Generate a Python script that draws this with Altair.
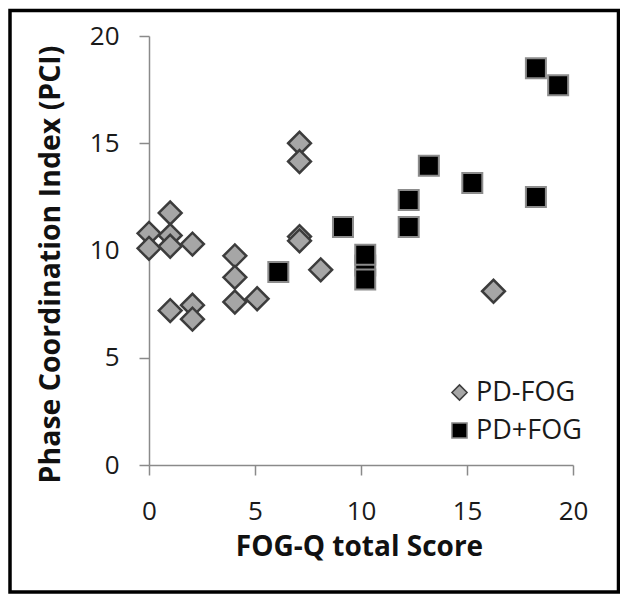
import altair as alt
import pandas as pd

series_names = ["PD-FOG", "PD+FOG"]

pd_minus_x = [0, 0, 1, 1, 1, 1, 2.05, 2.05, 2.05, 4.05, 4.05, 4.05, 5.1, 7.1, 7.1, 7.1, 7.1, 8.1, 16.25]
pd_minus_y = [10.8, 10.1, 11.75, 10.7, 10.2, 7.2, 10.3, 7.45, 6.8, 9.75, 8.75, 7.6, 7.75, 15.0, 14.15, 10.65, 10.45, 9.1, 8.1]

pd_plus_x = [6.1, 9.15, 10.2, 10.2, 10.2, 12.25, 12.25, 13.2, 15.25, 18.25, 18.25, 19.3]
pd_plus_y = [9.0, 11.1, 9.3, 9.8, 8.65, 12.35, 11.1, 13.95, 13.15, 18.5, 12.5, 17.7]

x_ticks = [0, 5, 10, 15, 20]
y_ticks = [0, 5, 10, 15, 20]

df_minus = pd.DataFrame({"x": pd_minus_x, "y": pd_minus_y, "series": series_names[0]})
df_plus = pd.DataFrame({"x": pd_plus_x, "y": pd_plus_y, "series": series_names[1]})

FONT = "Open Sans"
AXIS_GRAY = "#8a8a8a"

legend = alt.Legend(title=None, orient="none", legendX=297, legendY=343,
                    labelFont=FONT, labelFontSize=27, labelColor="#1a1a1a",
                    symbolSize=230, symbolStrokeWidth=1.5, labelOffset=3, rowPadding=10)

x_enc = alt.X("x:Q",
              scale=alt.Scale(domain=[0, 20], nice=False, zero=False),
              axis=alt.Axis(values=x_ticks, title="FOG-Q total Score", grid=False, labelFlush=False,
                            titleX=210, titleY=82, titleBaseline="middle", titleAlign="center",
                            titleFontSize=28, labelPadding=23))
y_enc = alt.Y("y:Q",
              scale=alt.Scale(domain=[0, 20], nice=False, zero=False),
              axis=alt.Axis(values=y_ticks, title="Phase Coordination Index (PCI)", grid=False, labelFlush=False,
                            titleX=-99, titleY=228, titleAngle=-90, titleBaseline="middle",
                            titleAlign="center", titleFontSize=28.5, labelPadding=20))
shape_enc = alt.Shape("series:N", scale=alt.Scale(domain=series_names, range=["diamond", "square"]),
                      legend=legend)
fill_enc = alt.Fill("series:N", scale=alt.Scale(domain=series_names, range=["#a6a6a6", "#000000"]),
                    legend=legend)
stroke_enc = alt.Stroke("series:N", scale=alt.Scale(domain=series_names, range=["#3c3c3c", "#8c8c8c"]),
                        legend=legend)

diamonds = alt.Chart(df_minus).mark_point(
    filled=True, opacity=1, fillOpacity=1, strokeOpacity=1, size=520, strokeWidth=2.5
).encode(x=x_enc, y=y_enc, shape=shape_enc, fill=fill_enc, stroke=stroke_enc)

squares = alt.Chart(df_plus).mark_point(
    filled=True, opacity=1, fillOpacity=1, strokeOpacity=1, size=400, strokeWidth=2
).encode(x=x_enc, y=y_enc, shape=shape_enc, fill=fill_enc, stroke=stroke_enc)

border = alt.Chart(pd.DataFrame({"a": [0]})).mark_rect(
    fill="white", fillOpacity=0, stroke="black", strokeWidth=3.5
).encode(
    x=alt.value(-139), x2=alt.value(469.5), y=alt.value(-25.5), y2=alt.value(556)
)

chart = alt.layer(border, diamonds, squares).properties(
    width=424, height=429,
    padding={"left": 141, "top": 28, "right": 47, "bottom": 129},
    autosize=alt.AutoSizeParams(type="none"),
    background="white",
).configure_view(
    stroke=None
).configure_axis(
    domainColor=AXIS_GRAY, domainWidth=1.5, tickColor=AXIS_GRAY, tickWidth=1.5, tickSize=10,
    labelFont=FONT, labelFontSize=26, labelColor="#1a1a1a",
    titleFont=FONT, titleFontWeight="bold", titleColor="#111111",
)

chart.save("out.html", embed_options={"renderer": "svg", "actions": False})
